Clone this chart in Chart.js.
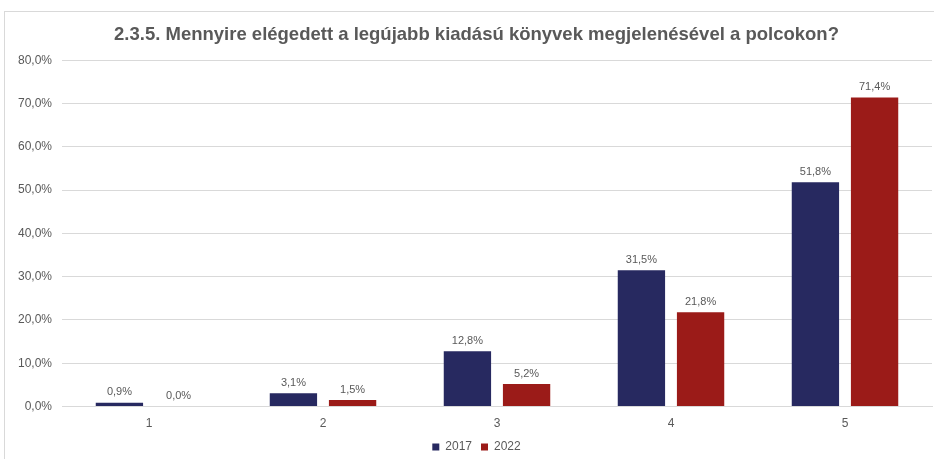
<!DOCTYPE html>
<html>
<head>
<meta charset="utf-8">
<script src="https://cdn.jsdelivr.net/npm/chart.js@4.4.1/dist/chart.umd.min.js"></script>
<style>
  html, body { margin: 0; padding: 0; background: #fff; overflow: hidden; }
  #frame {
    position: absolute; left: 4px; top: 11px;
    width: 960px; height: 470px;
    border: 1px solid #d9d9d9;
    background: #fff;
  }
  canvas { display: block; }
</style>
</head>
<body>
<div id="frame"><canvas id="chart" width="960" height="470"></canvas></div>
<script>
const title = '2.3.5. Mennyire elégedett a legújabb kiadású könyvek megjelenésével a polcokon?';
const categories = ['1', '2', '3', '4', '5'];
const seriesNames = ['2017', '2022'];
const values2017 = [0.9, 3.1, 12.8, 31.5, 51.8];
const values2022 = [0.0, 1.5, 5.2, 21.8, 71.4];
const colors = ['#272960', '#9b1b18'];

const textGray = '#595959';
const fontFamily = '"Liberation Sans", Arial, sans-serif';
const fmt = v => v.toFixed(1).replace('.', ',') + '%';

// Value labels above each bar
const barLabels = {
  id: 'barLabels',
  afterDatasetsDraw(chart) {
    const ctx = chart.ctx;
    ctx.save();
    ctx.font = '11px ' + fontFamily;
    ctx.fillStyle = textGray;
    ctx.textAlign = 'center';
    ctx.textBaseline = 'bottom';
    chart.data.datasets.forEach((ds, i) => {
      chart.getDatasetMeta(i).data.forEach((el, j) => {
        ctx.fillText(fmt(ds.data[j]), el.x, el.y - 5);
      });
    });
    ctx.restore();
  }
};

// Centre title and legend on the whole frame, and pull the legend up
const boxNudge = {
  id: 'boxNudge',
  afterLayout(chart) {
    const dx = 8;
    if (chart.titleBlock) {
      chart.titleBlock.left += dx;
      chart.titleBlock.right += dx;
    }
    if (chart.legend) {
      chart.legend.left += dx;
      chart.legend.right += dx;
      chart.legend.top -= 9;
      chart.legend.bottom -= 9;
    }
  }
};

new Chart(document.getElementById('chart'), {
  type: 'bar',
  data: {
    labels: categories,
    datasets: [
      { label: seriesNames[0], data: values2017, backgroundColor: colors[0] },
      { label: seriesNames[1], data: values2022, backgroundColor: colors[1] }
    ]
  },
  options: {
    responsive: false,
    animation: false,
    layout: { padding: { left: 0, right: 33, top: 0, bottom: 10 } },
    datasets: { bar: { categoryPercentage: 0.68, barPercentage: 0.8 } },
    scales: {
      x: {
        grid: { display: false, drawTicks: false },
        border: { color: '#d9d9d9', width: 1 },
        ticks: { color: textGray, padding: 10, font: { family: fontFamily, size: 12 } }
      },
      y: {
        min: 0, max: 80,
        afterFit(scale) { scale.width = 57; },
        grid: { color: '#d9d9d9', drawTicks: false },
        border: { display: false },
        ticks: {
          stepSize: 10, padding: 10, color: textGray,
          font: { family: fontFamily, size: 12 },
          callback: v => fmt(v)
        }
      }
    },
    plugins: {
      title: {
        display: true, text: title, color: textGray,
        font: { family: fontFamily, size: 18.5, weight: 'bold' },
        padding: { top: 12, bottom: 14 }
      },
      legend: {
        position: 'bottom',
        labels: {
          boxWidth: 7, boxHeight: 7, color: textGray, padding: 9,
          font: { family: fontFamily, size: 12 }
        }
      },
      tooltip: { enabled: false }
    }
  },
  plugins: [barLabels, boxNudge]
});
</script>
</body>
</html>
